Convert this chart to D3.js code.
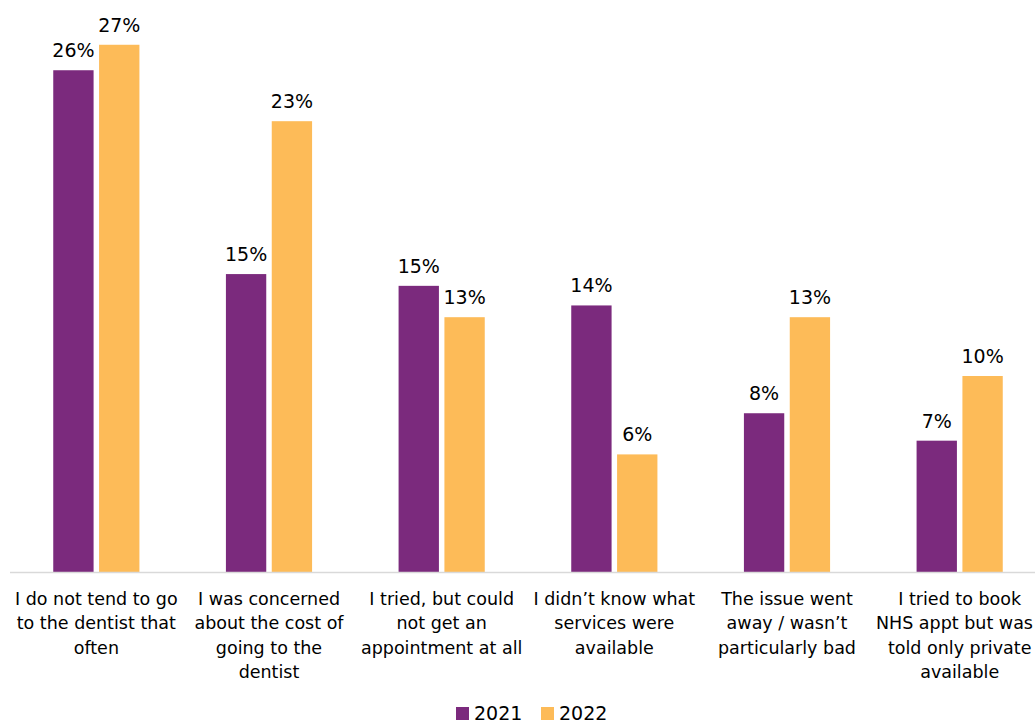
<!DOCTYPE html>
<html>
<head>
<meta charset="utf-8">
<script src="https://cdn.jsdelivr.net/npm/d3@7"></script>
<style>
  body { margin: 0; background: #fff; }
  svg { font-family: "DejaVu Sans", Verdana, sans-serif; }
</style>
</head>
<body>
<div id="chart"></div>
<script>
var categories = [
  ["I do not tend to go", "to the dentist that", "often"],
  ["I was concerned", "about the cost of", "going to the", "dentist"],
  ["I tried, but could", "not get an", "appointment at all"],
  ["I didn\u2019t know what", "services were", "available"],
  ["The issue went", "away / wasn\u2019t", "particularly bad"],
  ["I tried to book", "NHS appt but was", "told only private", "available"]
];
var series = ["2021", "2022"];
var values2021 = [25.6, 15.2, 14.6, 13.6, 8.1, 6.7];
var values2022 = [26.9, 23.0, 13.0, 6.0, 13.0, 10.0];
var colors = ["#7b2a7d", "#fdbb58"];

var W = 1035, H = 724;
var base = 572;

var svg = d3.select("#chart").append("svg")
    .attr("width", W)
    .attr("height", H);

var x0 = d3.scaleBand()
    .domain(d3.range(categories.length))
    .range([10, 1046]);

var x1 = d3.scaleBand()
    .domain(series)
    .range([x0.bandwidth() / 2 - 44, x0.bandwidth() / 2 + 44])
    .paddingInner(0.12)
    .paddingOuter(0.02);

var y = d3.scaleLinear()
    .domain([0, 28])
    .range([base, base - 28 * 19.6]);

var rows = categories.map(function(c, i) {
  return [{s: "2021", v: values2021[i]}, {s: "2022", v: values2022[i]}];
});

var groups = svg.selectAll("g.grp")
    .data(rows)
    .enter().append("g")
    .attr("class", "grp")
    .attr("transform", function(d, i) { return "translate(" + x0(i) + ",0)"; });

groups.selectAll("rect")
    .data(function(d) { return d; })
    .enter().append("rect")
    .attr("x", function(d) { return x1(d.s); })
    .attr("width", x1.bandwidth())
    .attr("y", function(d) { return y(d.v); })
    .attr("height", function(d) { return base - y(d.v); })
    .attr("fill", function(d) { return colors[series.indexOf(d.s)]; });

groups.selectAll("text.val")
    .data(function(d) { return d; })
    .enter().append("text")
    .attr("class", "val")
    .attr("x", function(d) { return x1(d.s) + x1.bandwidth() / 2; })
    .attr("y", function(d) { return y(d.v) - 13; })
    .attr("text-anchor", "middle")
    .style("font-size", "19px")
    .style("fill", "#000")
    .text(function(d) { return Math.round(d.v) + "%"; });

// baseline
svg.append("line")
    .attr("x1", 10).attr("x2", W)
    .attr("y1", base + 0.5).attr("y2", base + 0.5)
    .attr("stroke", "#d9d9d9")
    .attr("stroke-width", 1.5);

// category labels
svg.selectAll("text.cat")
    .data(categories)
    .enter().append("text")
    .attr("class", "cat")
    .attr("text-anchor", "middle")
    .attr("x", function(d, i) { return x0(i) + x0.bandwidth() / 2; })
    .attr("y", 605)
    .style("font-size", "17.5px")
    .style("fill", "#000")
    .selectAll("tspan")
    .data(function(d) { return d; })
    .enter().append("tspan")
    .attr("x", function() { return this.parentNode.getAttribute("x"); })
    .attr("dy", function(d, i) { return i === 0 ? 0 : 24.3; })
    .text(function(d) { return d; });

// keep lines inside the right edge
svg.selectAll("text.cat tspan").each(function() {
  var w = this.getComputedTextLength();
  var cx = +this.getAttribute("x");
  if (cx + w / 2 > W - 2) d3.select(this).attr("x", W - 2 - w / 2);
});

// legend
var legend = svg.append("g").attr("transform", "translate(456,707)");
var legX = [0, 85];
series.forEach(function(s, i) {
  legend.append("rect")
    .attr("x", legX[i]).attr("y", 0)
    .attr("width", 13).attr("height", 13)
    .attr("fill", colors[i]);
  legend.append("text")
    .attr("x", legX[i] + 18).attr("y", 13)
    .style("font-size", "19px")
    .style("fill", "#000")
    .text(s);
});
</script>
</body>
</html>
